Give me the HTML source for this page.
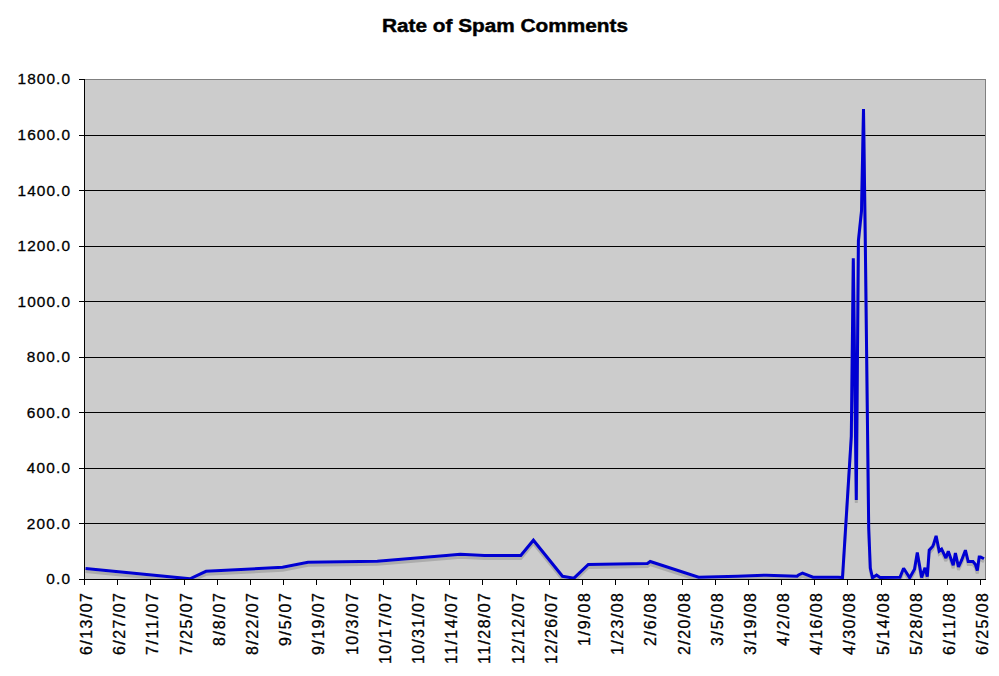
<!DOCTYPE html>
<html><head><meta charset="utf-8"><style>
html,body{margin:0;padding:0;background:#fff;width:999px;height:676px;overflow:hidden}
svg{display:block;font-family:"Liberation Sans",sans-serif}
</style></head><body>
<svg width="999" height="676" viewBox="0 0 999 676">
<defs><clipPath id="pc"><rect x="85" y="80" width="900" height="499"/></clipPath></defs>
<rect x="84" y="79" width="901" height="500" fill="#cccccc"/>
<line x1="84" y1="79.5" x2="986" y2="79.5" stroke="#808080" stroke-width="1"/>
<line x1="79" y1="79.5" x2="84" y2="79.5" stroke="#000" stroke-width="1"/>
<line x1="84" y1="135.5" x2="985" y2="135.5" stroke="#000" stroke-width="1"/>
<line x1="79" y1="135.5" x2="84" y2="135.5" stroke="#000" stroke-width="1"/>
<line x1="84" y1="190.5" x2="985" y2="190.5" stroke="#000" stroke-width="1"/>
<line x1="79" y1="190.5" x2="84" y2="190.5" stroke="#000" stroke-width="1"/>
<line x1="84" y1="246.5" x2="985" y2="246.5" stroke="#000" stroke-width="1"/>
<line x1="79" y1="246.5" x2="84" y2="246.5" stroke="#000" stroke-width="1"/>
<line x1="84" y1="301.5" x2="985" y2="301.5" stroke="#000" stroke-width="1"/>
<line x1="79" y1="301.5" x2="84" y2="301.5" stroke="#000" stroke-width="1"/>
<line x1="84" y1="357.5" x2="985" y2="357.5" stroke="#000" stroke-width="1"/>
<line x1="79" y1="357.5" x2="84" y2="357.5" stroke="#000" stroke-width="1"/>
<line x1="84" y1="412.5" x2="985" y2="412.5" stroke="#000" stroke-width="1"/>
<line x1="79" y1="412.5" x2="84" y2="412.5" stroke="#000" stroke-width="1"/>
<line x1="84" y1="468.5" x2="985" y2="468.5" stroke="#000" stroke-width="1"/>
<line x1="79" y1="468.5" x2="84" y2="468.5" stroke="#000" stroke-width="1"/>
<line x1="84" y1="523.5" x2="985" y2="523.5" stroke="#000" stroke-width="1"/>
<line x1="79" y1="523.5" x2="84" y2="523.5" stroke="#000" stroke-width="1"/>
<line x1="79" y1="579.5" x2="84" y2="579.5" stroke="#000" stroke-width="1"/>
<line x1="985.5" y1="79" x2="985.5" y2="579" stroke="#808080" stroke-width="1"/>
<g clip-path="url(#pc)"><path d="M85.5,568.5 L190,578.8 L206,571.3 L282.6,567.3 L308,562.2 L377.3,561.3 L446.3,555.4 L460.3,554.3 L484.4,555.5 L520.8,555.5 L533.4,540.2 L562.5,576.3 L574,578.2 L588.3,564.5 L647.4,563.4 L650.2,561.5 L698.6,577.3 L737.6,576.2 L766.3,575.2 L797,576.2 L798.5,575 L802.5,573.2 L813,577.2 L838,577.2 L842.5,577.5 L851.3,436.3 L853.3,258.2 L856.3,500 L858.4,240.7 L861.5,211 L863.5,109 L865.2,233.4 L868.7,527.8 L870.3,568 L872.5,577.8 L876.6,575 L880,577.4 L900,577.3 L903.6,568.3 L909.7,577.8 L914.5,569.2 L917.3,552.6 L921.6,577.5 L925,567.8 L927.3,576.6 L929.2,550.2 L932.6,546.4 L933.5,544.5 L936.1,535.9 L939.2,551.1 L941.6,549.2 L945.9,558 L948.3,551.2 L953.2,565.3 L955.4,553.1 L958.5,567 L961.6,560.2 L965.4,550.2 L968.2,561.6 L973,561.6 L975.4,564.5 L977.3,570.6 L979.2,556.9 L980.6,556.9 L984,558.8" transform="translate(0,3)" fill="none" stroke="#a9a9a9" stroke-width="3" stroke-linejoin="miter" stroke-miterlimit="2" opacity="0.9"/>
<path d="M85.5,568.5 L190,578.8 L206,571.3 L282.6,567.3 L308,562.2 L377.3,561.3 L446.3,555.4 L460.3,554.3 L484.4,555.5 L520.8,555.5 L533.4,540.2 L562.5,576.3 L574,578.2 L588.3,564.5 L647.4,563.4 L650.2,561.5 L698.6,577.3 L737.6,576.2 L766.3,575.2 L797,576.2 L798.5,575 L802.5,573.2 L813,577.2 L838,577.2 L842.5,577.5 L851.3,436.3 L853.3,258.2 L856.3,500 L858.4,240.7 L861.5,211 L863.5,109 L865.2,233.4 L868.7,527.8 L870.3,568 L872.5,577.8 L876.6,575 L880,577.4 L900,577.3 L903.6,568.3 L909.7,577.8 L914.5,569.2 L917.3,552.6 L921.6,577.5 L925,567.8 L927.3,576.6 L929.2,550.2 L932.6,546.4 L933.5,544.5 L936.1,535.9 L939.2,551.1 L941.6,549.2 L945.9,558 L948.3,551.2 L953.2,565.3 L955.4,553.1 L958.5,567 L961.6,560.2 L965.4,550.2 L968.2,561.6 L973,561.6 L975.4,564.5 L977.3,570.6 L979.2,556.9 L980.6,556.9 L984,558.8" fill="none" stroke="#0000d2" stroke-width="3" stroke-linejoin="miter" stroke-miterlimit="2"/></g>
<line x1="84.5" y1="79" x2="84.5" y2="580" stroke="#000" stroke-width="1"/>
<line x1="79" y1="579.5" x2="986" y2="579.5" stroke="#000" stroke-width="1"/>
<line x1="84.5" y1="580" x2="84.5" y2="585" stroke="#000" stroke-width="1"/>
<line x1="117.5" y1="580" x2="117.5" y2="585" stroke="#000" stroke-width="1"/>
<line x1="150.5" y1="580" x2="150.5" y2="585" stroke="#000" stroke-width="1"/>
<line x1="184.5" y1="580" x2="184.5" y2="585" stroke="#000" stroke-width="1"/>
<line x1="217.5" y1="580" x2="217.5" y2="585" stroke="#000" stroke-width="1"/>
<line x1="250.5" y1="580" x2="250.5" y2="585" stroke="#000" stroke-width="1"/>
<line x1="283.5" y1="580" x2="283.5" y2="585" stroke="#000" stroke-width="1"/>
<line x1="316.5" y1="580" x2="316.5" y2="585" stroke="#000" stroke-width="1"/>
<line x1="350.5" y1="580" x2="350.5" y2="585" stroke="#000" stroke-width="1"/>
<line x1="383.5" y1="580" x2="383.5" y2="585" stroke="#000" stroke-width="1"/>
<line x1="416.5" y1="580" x2="416.5" y2="585" stroke="#000" stroke-width="1"/>
<line x1="449.5" y1="580" x2="449.5" y2="585" stroke="#000" stroke-width="1"/>
<line x1="482.5" y1="580" x2="482.5" y2="585" stroke="#000" stroke-width="1"/>
<line x1="516.5" y1="580" x2="516.5" y2="585" stroke="#000" stroke-width="1"/>
<line x1="549.5" y1="580" x2="549.5" y2="585" stroke="#000" stroke-width="1"/>
<line x1="582.5" y1="580" x2="582.5" y2="585" stroke="#000" stroke-width="1"/>
<line x1="615.5" y1="580" x2="615.5" y2="585" stroke="#000" stroke-width="1"/>
<line x1="648.5" y1="580" x2="648.5" y2="585" stroke="#000" stroke-width="1"/>
<line x1="682.5" y1="580" x2="682.5" y2="585" stroke="#000" stroke-width="1"/>
<line x1="715.5" y1="580" x2="715.5" y2="585" stroke="#000" stroke-width="1"/>
<line x1="748.5" y1="580" x2="748.5" y2="585" stroke="#000" stroke-width="1"/>
<line x1="781.5" y1="580" x2="781.5" y2="585" stroke="#000" stroke-width="1"/>
<line x1="814.5" y1="580" x2="814.5" y2="585" stroke="#000" stroke-width="1"/>
<line x1="847.5" y1="580" x2="847.5" y2="585" stroke="#000" stroke-width="1"/>
<line x1="881.5" y1="580" x2="881.5" y2="585" stroke="#000" stroke-width="1"/>
<line x1="914.5" y1="580" x2="914.5" y2="585" stroke="#000" stroke-width="1"/>
<line x1="947.5" y1="580" x2="947.5" y2="585" stroke="#000" stroke-width="1"/>
<line x1="980.5" y1="580" x2="980.5" y2="585" stroke="#000" stroke-width="1"/>
<text x="70" y="84.4" text-anchor="end" font-size="15.4" stroke="#000" stroke-width="0.3" textLength="52.5" lengthAdjust="spacing">1800.0</text>
<text x="70" y="140.0" text-anchor="end" font-size="15.4" stroke="#000" stroke-width="0.3" textLength="52.5" lengthAdjust="spacing">1600.0</text>
<text x="70" y="195.5" text-anchor="end" font-size="15.4" stroke="#000" stroke-width="0.3" textLength="52.5" lengthAdjust="spacing">1400.0</text>
<text x="70" y="251.1" text-anchor="end" font-size="15.4" stroke="#000" stroke-width="0.3" textLength="52.5" lengthAdjust="spacing">1200.0</text>
<text x="70" y="306.6" text-anchor="end" font-size="15.4" stroke="#000" stroke-width="0.3" textLength="52.5" lengthAdjust="spacing">1000.0</text>
<text x="70" y="362.2" text-anchor="end" font-size="15.4" stroke="#000" stroke-width="0.3" textLength="43.3" lengthAdjust="spacing">800.0</text>
<text x="70" y="417.7" text-anchor="end" font-size="15.4" stroke="#000" stroke-width="0.3" textLength="43.3" lengthAdjust="spacing">600.0</text>
<text x="70" y="473.3" text-anchor="end" font-size="15.4" stroke="#000" stroke-width="0.3" textLength="43.3" lengthAdjust="spacing">400.0</text>
<text x="70" y="528.8" text-anchor="end" font-size="15.4" stroke="#000" stroke-width="0.3" textLength="43.3" lengthAdjust="spacing">200.0</text>
<text x="70" y="584.4" text-anchor="end" font-size="15.4" stroke="#000" stroke-width="0.3" textLength="23.7" lengthAdjust="spacing">0.0</text>
<text transform="translate(91.5,593) rotate(-90)" text-anchor="end" font-size="16" stroke="#000" stroke-width="0.3" textLength="62.0" lengthAdjust="spacing">6/13/07</text>
<text transform="translate(124.5,593) rotate(-90)" text-anchor="end" font-size="16" stroke="#000" stroke-width="0.3" textLength="62.0" lengthAdjust="spacing">6/27/07</text>
<text transform="translate(157.5,593) rotate(-90)" text-anchor="end" font-size="16" stroke="#000" stroke-width="0.3" textLength="62.0" lengthAdjust="spacing">7/11/07</text>
<text transform="translate(191.5,593) rotate(-90)" text-anchor="end" font-size="16" stroke="#000" stroke-width="0.3" textLength="62.0" lengthAdjust="spacing">7/25/07</text>
<text transform="translate(224.5,593) rotate(-90)" text-anchor="end" font-size="16" stroke="#000" stroke-width="0.3" textLength="53.1" lengthAdjust="spacing">8/8/07</text>
<text transform="translate(257.5,593) rotate(-90)" text-anchor="end" font-size="16" stroke="#000" stroke-width="0.3" textLength="62.0" lengthAdjust="spacing">8/22/07</text>
<text transform="translate(290.5,593) rotate(-90)" text-anchor="end" font-size="16" stroke="#000" stroke-width="0.3" textLength="53.1" lengthAdjust="spacing">9/5/07</text>
<text transform="translate(323.5,593) rotate(-90)" text-anchor="end" font-size="16" stroke="#000" stroke-width="0.3" textLength="62.0" lengthAdjust="spacing">9/19/07</text>
<text transform="translate(357.5,593) rotate(-90)" text-anchor="end" font-size="16" stroke="#000" stroke-width="0.3" textLength="62.0" lengthAdjust="spacing">10/3/07</text>
<text transform="translate(390.5,593) rotate(-90)" text-anchor="end" font-size="16" stroke="#000" stroke-width="0.3" textLength="70.9" lengthAdjust="spacing">10/17/07</text>
<text transform="translate(423.5,593) rotate(-90)" text-anchor="end" font-size="16" stroke="#000" stroke-width="0.3" textLength="70.9" lengthAdjust="spacing">10/31/07</text>
<text transform="translate(456.5,593) rotate(-90)" text-anchor="end" font-size="16" stroke="#000" stroke-width="0.3" textLength="70.9" lengthAdjust="spacing">11/14/07</text>
<text transform="translate(489.5,593) rotate(-90)" text-anchor="end" font-size="16" stroke="#000" stroke-width="0.3" textLength="70.9" lengthAdjust="spacing">11/28/07</text>
<text transform="translate(523.5,593) rotate(-90)" text-anchor="end" font-size="16" stroke="#000" stroke-width="0.3" textLength="70.9" lengthAdjust="spacing">12/12/07</text>
<text transform="translate(556.5,593) rotate(-90)" text-anchor="end" font-size="16" stroke="#000" stroke-width="0.3" textLength="70.9" lengthAdjust="spacing">12/26/07</text>
<text transform="translate(589.5,593) rotate(-90)" text-anchor="end" font-size="16" stroke="#000" stroke-width="0.3" textLength="53.1" lengthAdjust="spacing">1/9/08</text>
<text transform="translate(622.5,593) rotate(-90)" text-anchor="end" font-size="16" stroke="#000" stroke-width="0.3" textLength="62.0" lengthAdjust="spacing">1/23/08</text>
<text transform="translate(655.5,593) rotate(-90)" text-anchor="end" font-size="16" stroke="#000" stroke-width="0.3" textLength="53.1" lengthAdjust="spacing">2/6/08</text>
<text transform="translate(689.5,593) rotate(-90)" text-anchor="end" font-size="16" stroke="#000" stroke-width="0.3" textLength="62.0" lengthAdjust="spacing">2/20/08</text>
<text transform="translate(722.5,593) rotate(-90)" text-anchor="end" font-size="16" stroke="#000" stroke-width="0.3" textLength="53.1" lengthAdjust="spacing">3/5/08</text>
<text transform="translate(755.5,593) rotate(-90)" text-anchor="end" font-size="16" stroke="#000" stroke-width="0.3" textLength="62.0" lengthAdjust="spacing">3/19/08</text>
<text transform="translate(788.5,593) rotate(-90)" text-anchor="end" font-size="16" stroke="#000" stroke-width="0.3" textLength="53.1" lengthAdjust="spacing">4/2/08</text>
<text transform="translate(821.5,593) rotate(-90)" text-anchor="end" font-size="16" stroke="#000" stroke-width="0.3" textLength="62.0" lengthAdjust="spacing">4/16/08</text>
<text transform="translate(854.5,593) rotate(-90)" text-anchor="end" font-size="16" stroke="#000" stroke-width="0.3" textLength="62.0" lengthAdjust="spacing">4/30/08</text>
<text transform="translate(888.5,593) rotate(-90)" text-anchor="end" font-size="16" stroke="#000" stroke-width="0.3" textLength="62.0" lengthAdjust="spacing">5/14/08</text>
<text transform="translate(921.5,593) rotate(-90)" text-anchor="end" font-size="16" stroke="#000" stroke-width="0.3" textLength="62.0" lengthAdjust="spacing">5/28/08</text>
<text transform="translate(954.5,593) rotate(-90)" text-anchor="end" font-size="16" stroke="#000" stroke-width="0.3" textLength="62.0" lengthAdjust="spacing">6/11/08</text>
<text transform="translate(987.5,593) rotate(-90)" text-anchor="end" font-size="16" stroke="#000" stroke-width="0.3" textLength="62.0" lengthAdjust="spacing">6/25/08</text>
<text x="382" y="31.5" font-size="17.5" font-weight="bold" stroke="#000" stroke-width="0.4" textLength="246" lengthAdjust="spacingAndGlyphs">Rate of Spam Comments</text>
</svg>
</body></html>
